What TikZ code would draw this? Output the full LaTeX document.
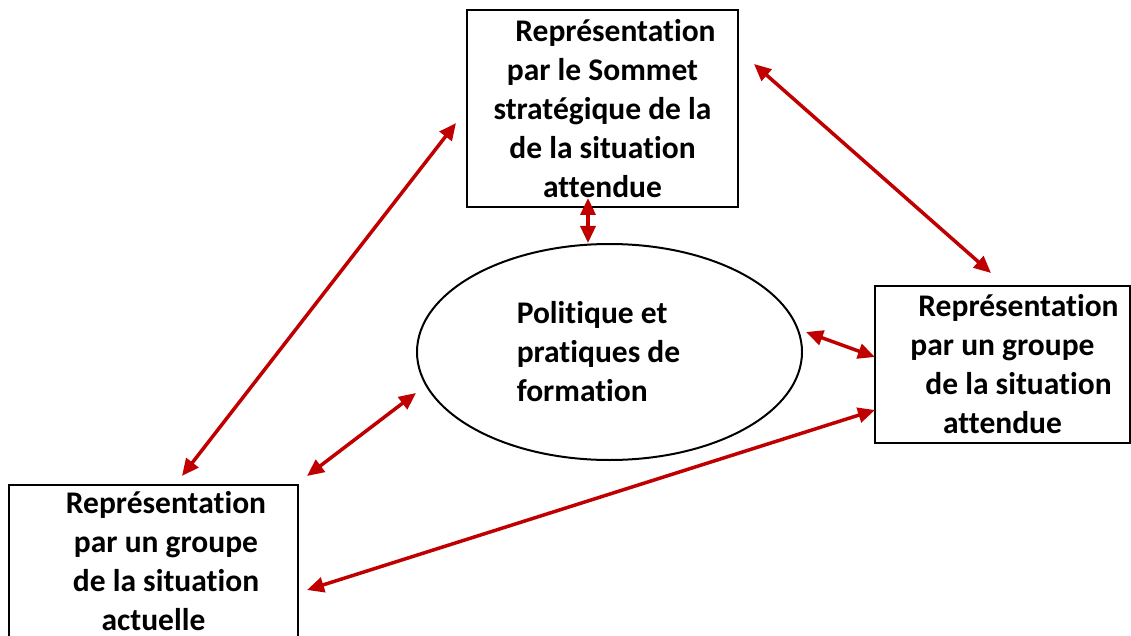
\documentclass[tikz,border=0pt]{standalone}
\usepackage{fontspec}
\setmainfont{Carlito}[RawFeature={-liga;-clig}]
\usetikzlibrary{shapes.geometric, arrows.meta}
\definecolor{linkred}{HTML}{C00000}

\begin{document}
\begin{tikzpicture}[x = 1pt, y = -1pt, font = \fontsize{31.5}{39}\selectfont\bfseries,
  box/.style = {draw = black, line width = 2pt, inner sep = 0pt, align = center},
  link/.style = {{Triangle[length = 17pt, width = 15pt]}-{Triangle[length = 17pt, width = 15pt]}, draw = linkred, line width = 3.5pt}]
  \useasboundingbox (0, 0) rectangle (1131, 636);
  \clip (0, 0) rectangle (1131, 636);

  \node (sommet) [box, minimum width = 271pt, minimum height = 197pt] at (602.5, 108.5)
    {\hspace*{26pt}Représentation\\par le Sommet\\stratégique de la\\de la situation\\attendue};
  \node (politique) [box, ellipse, minimum width = 385pt, minimum height = 216pt, align = left] at (609.5, 352)
    {Politique et\\pratiques de\rule{22pt}{0pt}\\formation};
  \node (attendue) [box, minimum width = 255pt, minimum height = 157pt] at (1002.5, 364.5)
    {\hspace*{32pt}Représentation\\par un groupe\\\hspace*{32pt}de la situation\\attendue};
  \node (actuelle) [box, minimum width = 289pt, minimum height = 190pt] at (153.5, 580)
    {\hspace*{25pt}Représentation\\\hspace*{25pt}par un groupe\\\hspace*{25pt}de la situation\\actuelle\\\mbox{}};

  \draw [link] ([shift = {(-14.5, -10)}] sommet.south) -- ([shift = {(-21.5, 0)}] politique.north);
  \draw [link] ([shift = {(15, 55)}] sommet.north east) -- ([shift = {(-11.5, -12)}] attendue.north);
  \draw [link] ([shift = {(-10, 114)}] sommet.north west) -- ([shift = {(28.5, -8)}] actuelle.north);
  \draw [link] ([shift = {(0, 41)}] politique.west) -- ([shift = {(8, -8)}] actuelle.north east);
  \draw [link] ([shift = {(3, -20)}] politique.east) -- ([shift = {(1, -7.5)}] attendue.west);
  \draw [link] ([shift = {(1, 45.5)}] attendue.west) -- ([shift = {(8, 10)}] actuelle.east);
\end{tikzpicture}
\end{document}
